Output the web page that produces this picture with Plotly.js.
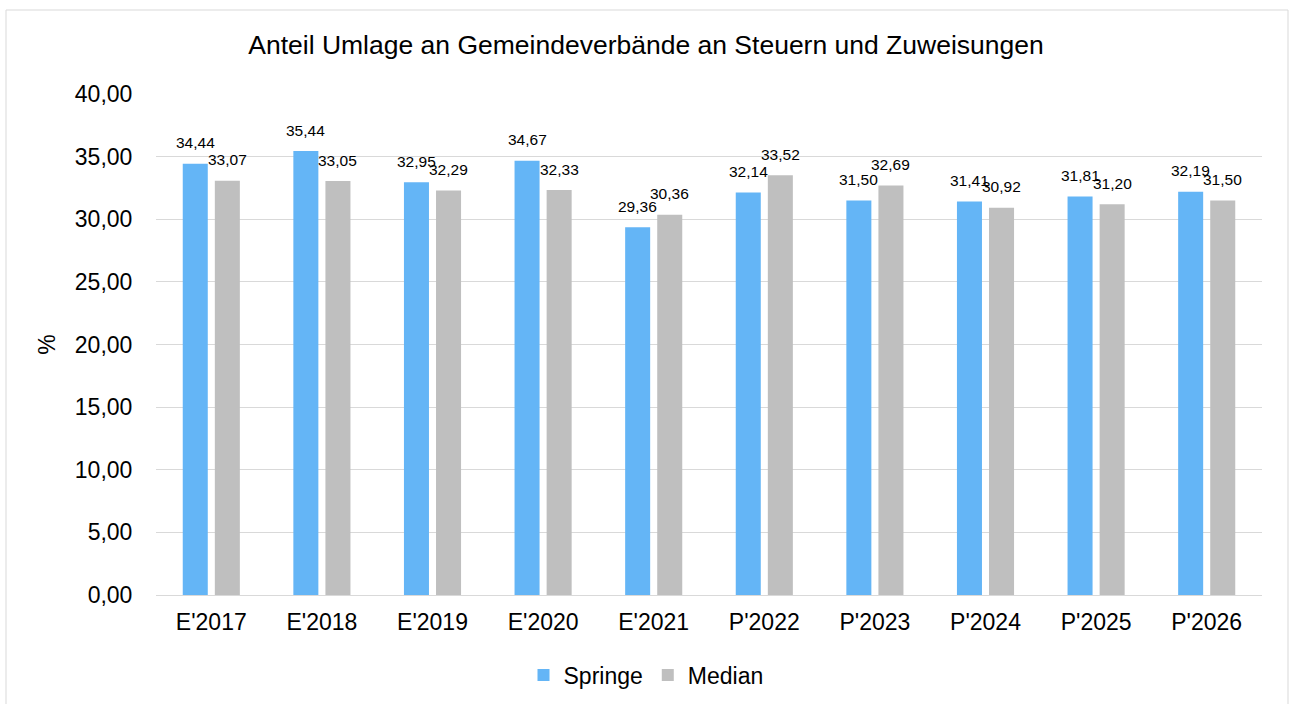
<!DOCTYPE html>
<html>
<head>
<meta charset="utf-8">
<script src="https://cdn.plot.ly/plotly-3.0.1.min.js"></script>
<style>
html,body{margin:0;padding:0;background:#fff;}
#chart{width:1292px;height:704px;}
</style>
</head>
<body>
<div id="chart"></div>
<script>
const categories = ["E'2017","E'2018","E'2019","E'2020","E'2021","P'2022","P'2023","P'2024","P'2025","P'2026"];
const springe = [34.44, 35.44, 32.95, 34.67, 29.36, 32.14, 31.50, 31.41, 31.81, 32.19];
const median  = [33.07, 33.05, 32.29, 32.33, 30.36, 33.52, 32.69, 30.92, 31.20, 31.50];
const seriesNames = ["Springe", "Median"];
const seriesColors = ['#64B5F6', '#BFBFBF'];
const yTitle = "%";
const chartTitle = "Anteil Umlage an Gemeindeverbände an Steuern und Zuweisungen";

const FONT = "Liberation Sans, Arial, sans-serif";
const W = 1292, H = 704;
const M = {l: 156, r: 30, t: 94, b: 109};
const BARGAP = 0.42, BARGROUPGAP = 0.22;

function barTrace(name, values, color) {
  return {
    type: 'bar',
    name: name,
    x: categories,
    y: values,
    marker: {color: color},
    hoverinfo: 'x+y+name'
  };
}

const data = [
  barTrace(seriesNames[0], springe, seriesColors[0]),
  barTrace(seriesNames[1], median, seriesColors[1])
];

// value labels: placed over each bar of the group (offset = half a bar slot)
const plotW = W - M.l - M.r;
const slot = plotW / categories.length * (1 - BARGAP) / 2;
const fmt = v => v.toFixed(2).replace('.', ',');
const annotations = [];
[springe, median].forEach((vals, s) => {
  vals.forEach((v, i) => {
    annotations.push({
      x: categories[i], y: v, xref: 'x', yref: 'y',
      text: fmt(v), showarrow: false,
      xanchor: 'center', yanchor: 'middle',
      xshift: (s === 0 ? -1 : 1) * slot / 2,
      yshift: 21,
      font: {family: FONT, size: 15.5, color: '#000'}
    });
  });
});

const layout = {
  width: W,
  height: H,
  paper_bgcolor: '#fff',
  plot_bgcolor: '#fff',
  separators: ',.',
  font: {family: FONT, size: 23, color: '#000'},
  margin: M,
  title: {
    text: chartTitle,
    font: {family: FONT, size: 26.5, color: '#000'},
    x: 0.5, xref: 'container', xanchor: 'center',
    y: 1 - 45/H, yref: 'container', yanchor: 'middle'
  },
  barmode: 'group',
  bargap: BARGAP,
  bargroupgap: BARGROUPGAP,
  xaxis: {
    type: 'category',
    showgrid: false,
    showline: true,
    linecolor: '#d9d9d9',
    linewidth: 1,
    ticks: 'outside',
    ticklen: 6,
    tickcolor: 'rgba(0,0,0,0)',
    tickfont: {family: FONT, size: 23, color: '#000'},
    fixedrange: true
  },
  yaxis: {
    range: [0, 40],
    dtick: 5,
    tick0: 0,
    tickformat: '.2f',
    showgrid: true,
    gridcolor: '#d9d9d9',
    gridwidth: 1,
    zeroline: false,
    showline: false,
    ticks: 'outside',
    ticklen: 18,
    tickcolor: 'rgba(0,0,0,0)',
    tickfont: {family: FONT, size: 23, color: '#000'},
    title: {text: yTitle, font: {family: FONT, size: 23, color: '#000'}, standoff: 12},
    fixedrange: true
  },
  annotations: annotations,
  showlegend: true,
  legend: {
    orientation: 'h',
    x: 0.5, xref: 'container', xanchor: 'center',
    y: 1 - 675/H, yref: 'container', yanchor: 'middle',
    font: {family: FONT, size: 23, color: '#000'},
    itemwidth: 30,
    traceorder: 'normal'
  },
  shapes: [{
    type: 'rect',
    xref: 'paper', yref: 'paper',
    x0: (6 - M.l) / plotW, x1: (1288 - M.l) / plotW,
    y0: ((H - M.b) - 712) / (H - M.t - M.b), y1: ((H - M.b) - 10) / (H - M.t - M.b),
    line: {color: '#d9d9d9', width: 1},
    fillcolor: 'rgba(0,0,0,0)',
    layer: 'below'
  }]
};

Plotly.newPlot('chart', data, layout, {displayModeBar: false, staticPlot: true});
</script>
</body>
</html>
